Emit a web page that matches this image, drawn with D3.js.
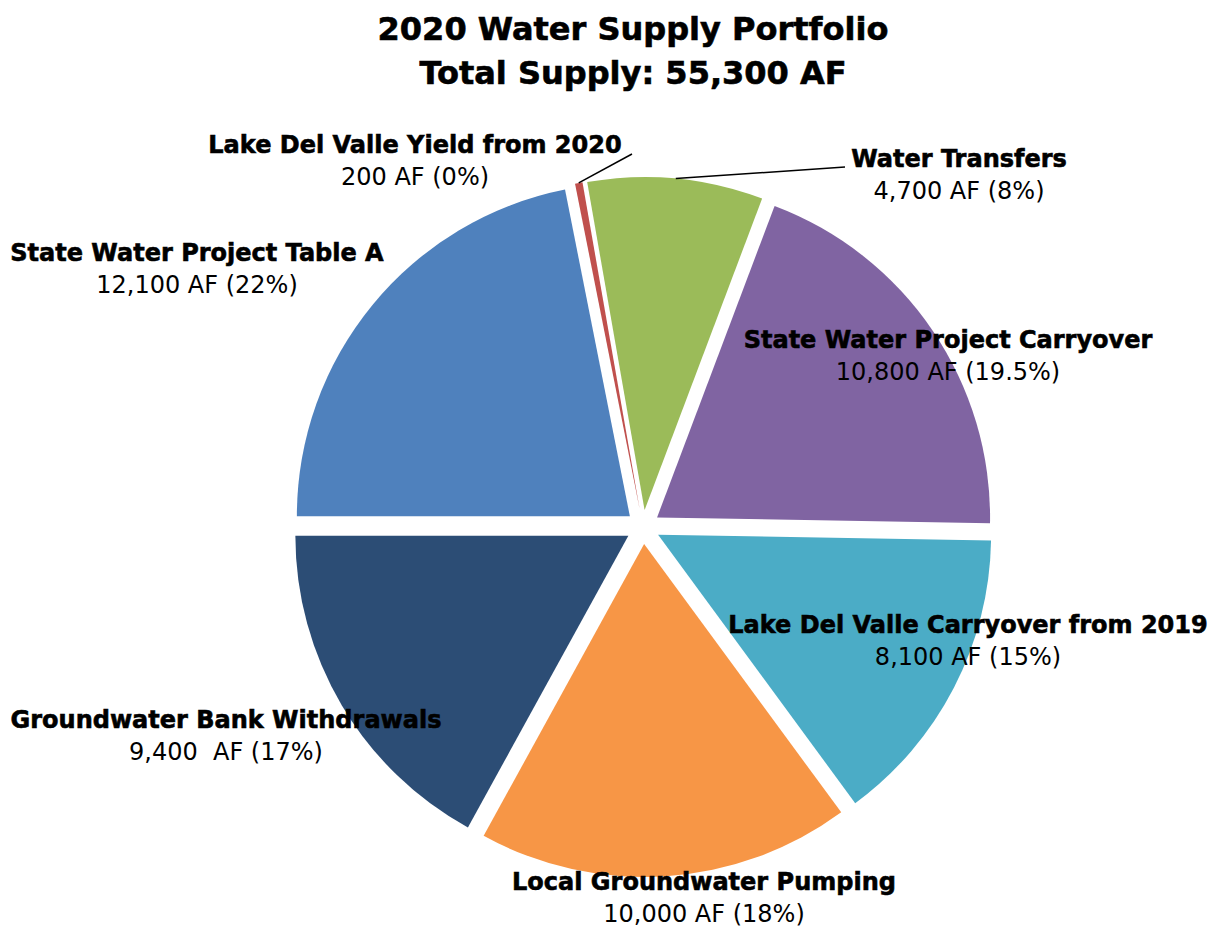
<!DOCTYPE html>
<html>
<head>
<meta charset="utf-8">
<script src="https://cdn.jsdelivr.net/npm/d3@7"></script>
<style>
  body { margin: 0; background: #fff; }
  text { font-family: "DejaVu Sans", Verdana, sans-serif; fill: #000; }
  .heavy { stroke: #000; stroke-width: 0.6px; }
</style>
</head>
<body>
<div id="chart"></div>
<script>
// data (clockwise from 9 o'clock, as in the original)
var categories = ["State Water Project Table A", "Lake Del Valle Yield from 2020", "Water Transfers",
                  "State Water Project Carryover", "Lake Del Valle Carryover from 2019",
                  "Local Groundwater Pumping", "Groundwater Bank Withdrawals"];
var values = [12100, 200, 4700, 10800, 8100, 10000, 9400];
var valueLabels = ["12,100 AF (22%)", "200 AF (0%)", "4,700 AF (8%)", "10,800 AF (19.5%)",
                   "8,100 AF (15%)", "10,000 AF (18%)", "9,400  AF (17%)"];
var colors = ["#4F81BD", "#C0504D", "#9BBB59", "#8064A2", "#4BACC6", "#F79646", "#2C4D75"];
var titleLines = ["2020 Water Supply Portfolio", "Total Supply: 55,300 AF"];

// label placement (moved by hand in the original), [center x, baseline y]
var labelPos = [[197, 261], [415, 153], [959, 167], [948, 348], [968, 633], [704, 890], [226, 728]];
// leader line ends, null = no leader
var leaderEnd = [null, [632, 154], [845, 167], null, null, null, null];

var width = 1209, height = 928,
    cx = 643, cy = 527,
    radius = 333, explode = 17;

var svg = d3.select("#chart").append("svg")
    .attr("width", width).attr("height", height);

// title
svg.selectAll(".title").data(titleLines).enter().append("text")
    .attr("class", "title heavy")
    .attr("x", 633).attr("y", function(d, i) { return 40 + i * 44; })
    .attr("text-anchor", "middle")
    .style("font-size", "32px").style("font-weight", "bold")
    .text(function(d) { return d; });

var pie = d3.pie().sort(null)
    .startAngle(-Math.PI / 2).endAngle(3 * Math.PI / 2);
var arcs = pie(values);

var arc = d3.arc().innerRadius(0).outerRadius(radius);

var g = svg.append("g").attr("transform", "translate(" + cx + "," + cy + ")");

function offset(d, dist) {      // point along the slice bisector
  var a = (d.startAngle + d.endAngle) / 2;
  return [Math.sin(a) * dist, -Math.cos(a) * dist];
}

g.selectAll(".slice").data(arcs).enter().append("path")
    .attr("class", "slice")
    .attr("d", arc)
    .attr("fill", function(d, i) { return colors[i]; })
    .attr("transform", function(d) {
      var o = offset(d, explode);
      return "translate(" + o[0] + "," + o[1] + ")"; });

// leader lines
arcs.forEach(function(d, i) {
  if (!leaderEnd[i]) return;
  var o = offset(d, radius + explode);
  svg.append("line")
    .attr("x1", cx + o[0]).attr("y1", cy + o[1])
    .attr("x2", leaderEnd[i][0]).attr("y2", leaderEnd[i][1])
    .style("stroke", "#000").style("stroke-width", 1.5);
});

// labels
var labels = svg.selectAll(".label").data(categories).enter().append("g").attr("class", "label");
labels.append("text")
    .attr("class", "heavy")
    .attr("x", function(d, i) { return labelPos[i][0]; })
    .attr("y", function(d, i) { return labelPos[i][1]; })
    .attr("text-anchor", "middle")
    .style("font-size", "24px").style("font-weight", "bold")
    .text(function(d) { return d; });
labels.append("text")
    .attr("x", function(d, i) { return labelPos[i][0]; })
    .attr("y", function(d, i) { return labelPos[i][1] + 32; })
    .attr("text-anchor", "middle")
    .style("font-size", "24px").style("white-space", "pre")
    .text(function(d, i) { return valueLabels[i]; });
</script>
</body>
</html>
